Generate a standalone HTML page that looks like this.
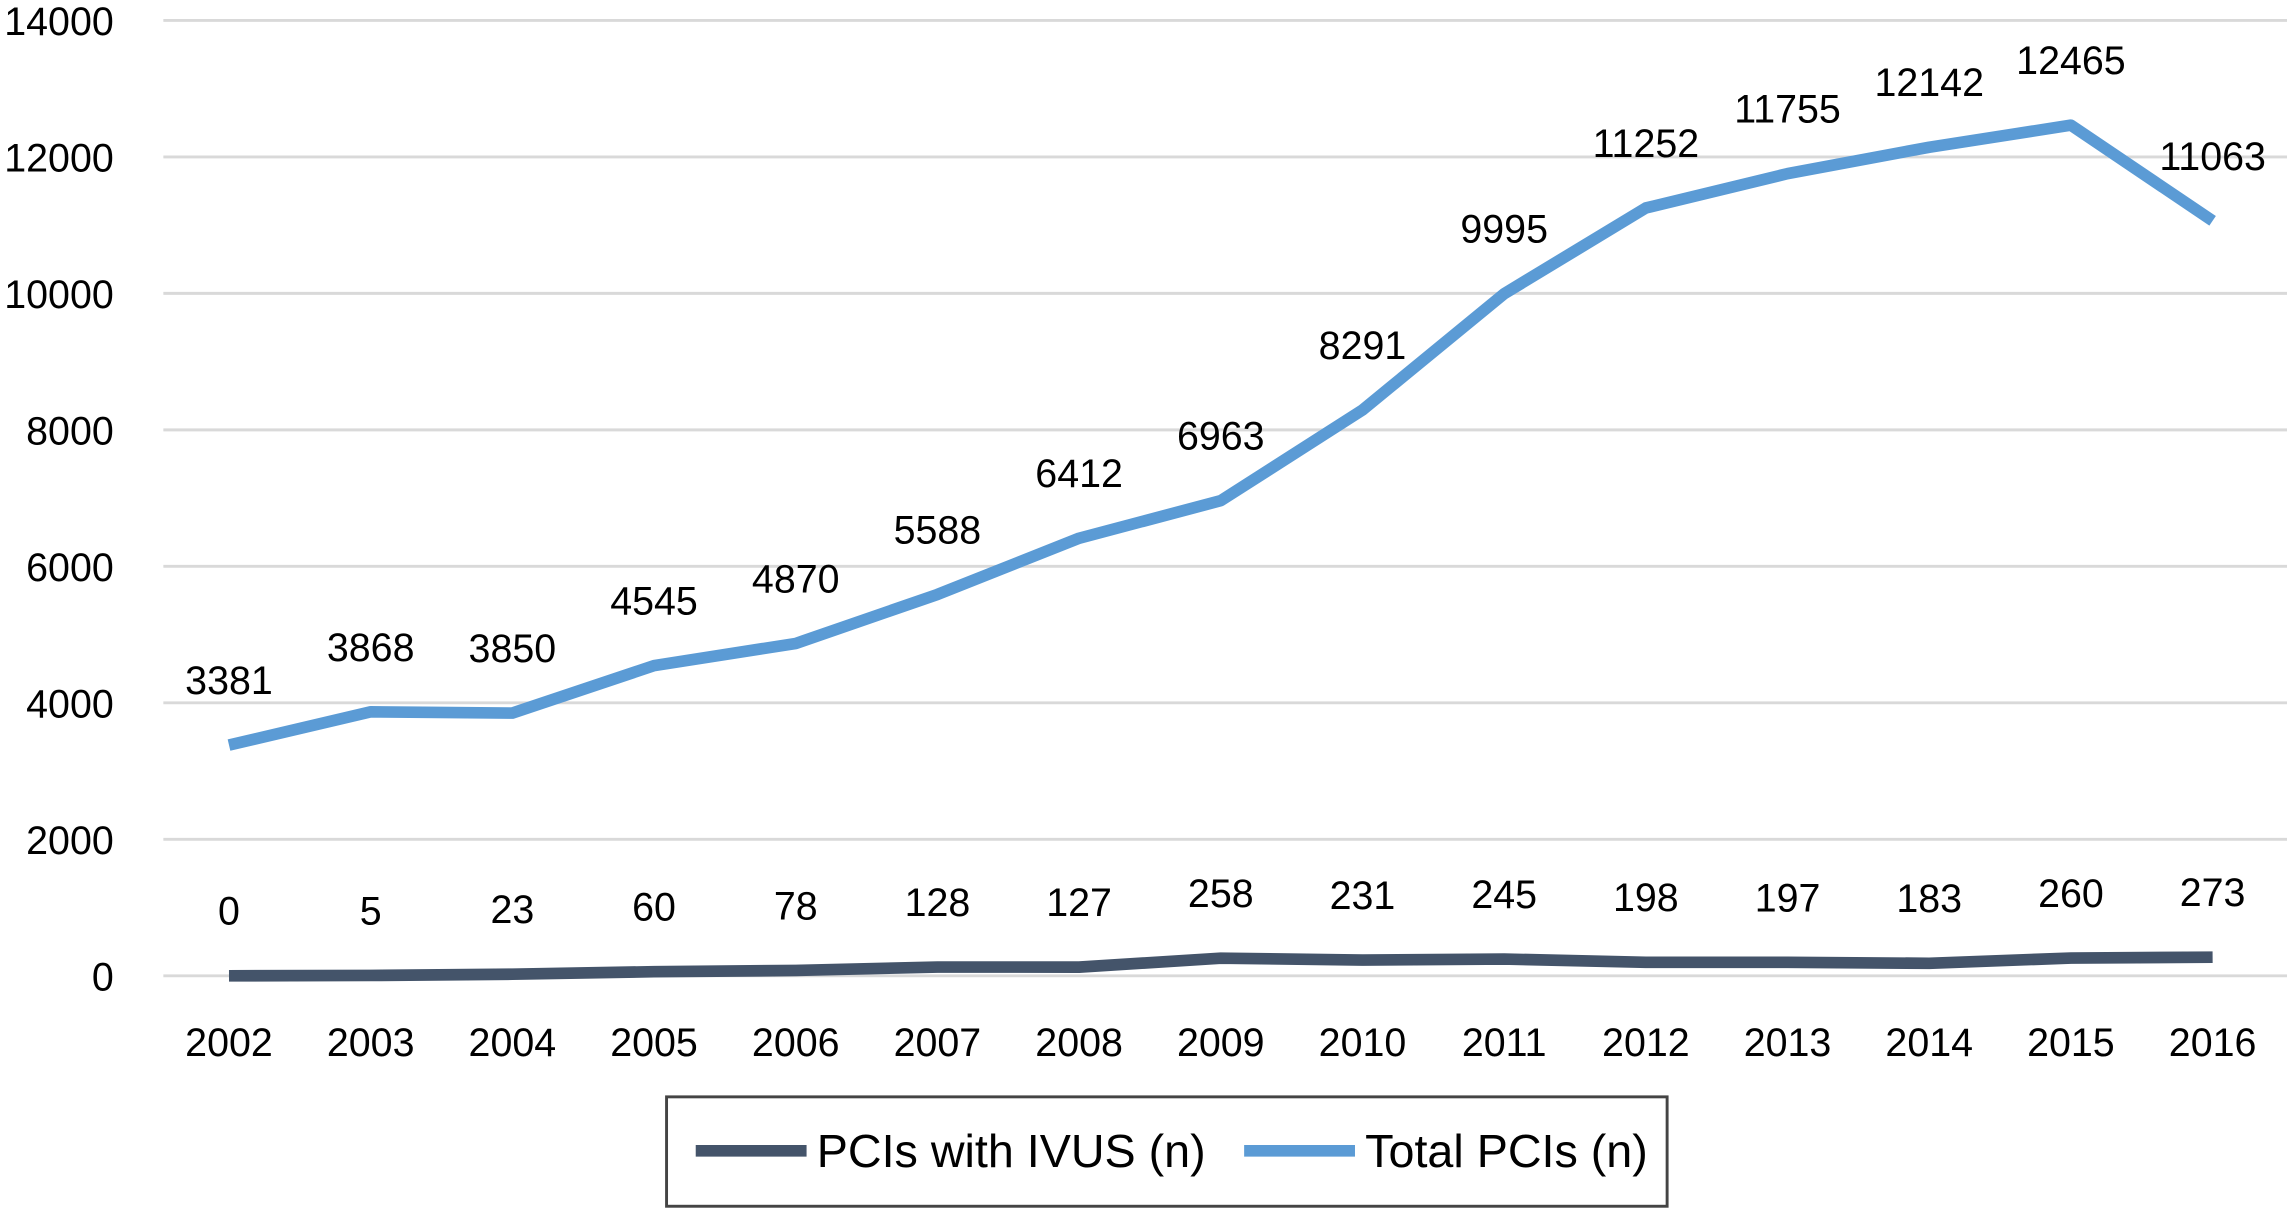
<!DOCTYPE html>
<html><head><meta charset="utf-8"><style>
html,body{margin:0;padding:0;background:#fff;}
svg{display:block;}
text{font-family:"Liberation Sans",Arial,sans-serif;fill:#000;}
</style></head><body>
<svg id="chart" width="2287" height="1208" viewBox="0 0 1568 828.2" preserveAspectRatio="none" xmlns="http://www.w3.org/2000/svg">
<g id="grid"></g>
<g id="yaxis"></g>
<g id="xaxis"></g>
<g id="series"></g>
<g id="legend">
<rect x="457" y="752" width="686" height="75" fill="#fff" stroke="#444" stroke-width="2"/>
<line x1="477" y1="789" x2="553" y2="789" stroke="#44546a" stroke-width="8"/>
<text x="560" y="800" font-size="32">PCIs with IVUS (n)</text>
<line x1="853" y1="789" x2="929" y2="789" stroke="#5b9bd5" stroke-width="8"/>
<text x="936" y="800" font-size="32">Total PCIs (n)</text>
</g>
</svg>
<script>
const years = ["2002","2003","2004","2005","2006","2007","2008","2009","2010","2011","2012","2013","2014","2015","2016"];
const ivus = [0,5,23,60,78,128,127,258,231,245,198,197,183,260,273];
const total = [3381,3868,3850,4545,4870,5588,6412,6963,8291,9995,11252,11755,12142,12465,11063];
const yTicks = [0,2000,4000,6000,8000,10000,12000,14000];
const NS="http://www.w3.org/2000/svg";
function y(v){return 669 - v*(669-14)/14000;}
function x(i){return 157 + i*(1517-157)/(years.length-1);}
function mk(tag,attrs,parent,txt){const e=document.createElementNS(NS,tag);for(const k in attrs)e.setAttribute(k,attrs[k]);if(txt!==undefined)e.textContent=txt;parent.appendChild(e);return e;}
const grid=document.getElementById('grid'),ya=document.getElementById('yaxis'),xa=document.getElementById('xaxis'),se=document.getElementById('series');
yTicks.forEach(t=>{
 const l=mk('line',{x1:112,x2:1568,y1:y(t),y2:y(t),stroke:'#d9d9d9','stroke-width':2},grid);
 
 
 const tx=mk('text',{x:78,y:y(t)+10,'font-size':27,'text-anchor':'end'},ya,String(t));
 
 
});
years.forEach((yr,i)=>{
 const tx=mk('text',{x:x(i),y:724,'font-size':27,'text-anchor':'middle'},xa,yr);
 
 
});
function series(vals,color,name){
 const p=mk('polyline',{points:vals.map((v,i)=>x(i)+','+y(v)).join(' '),fill:'none',stroke:color,'stroke-width':8,'stroke-linejoin':'round'},se);
 
 
 vals.forEach((v,i)=>{
  const t=mk('text',{x:x(i),y:y(v)-35,'font-size':27,'text-anchor':'middle'},se,String(v));
  
  
 });
}
series(total,'#5b9bd5','total-pcis');
series(ivus,'#44546a','pcis-with-ivus');
</script>
</body></html>
